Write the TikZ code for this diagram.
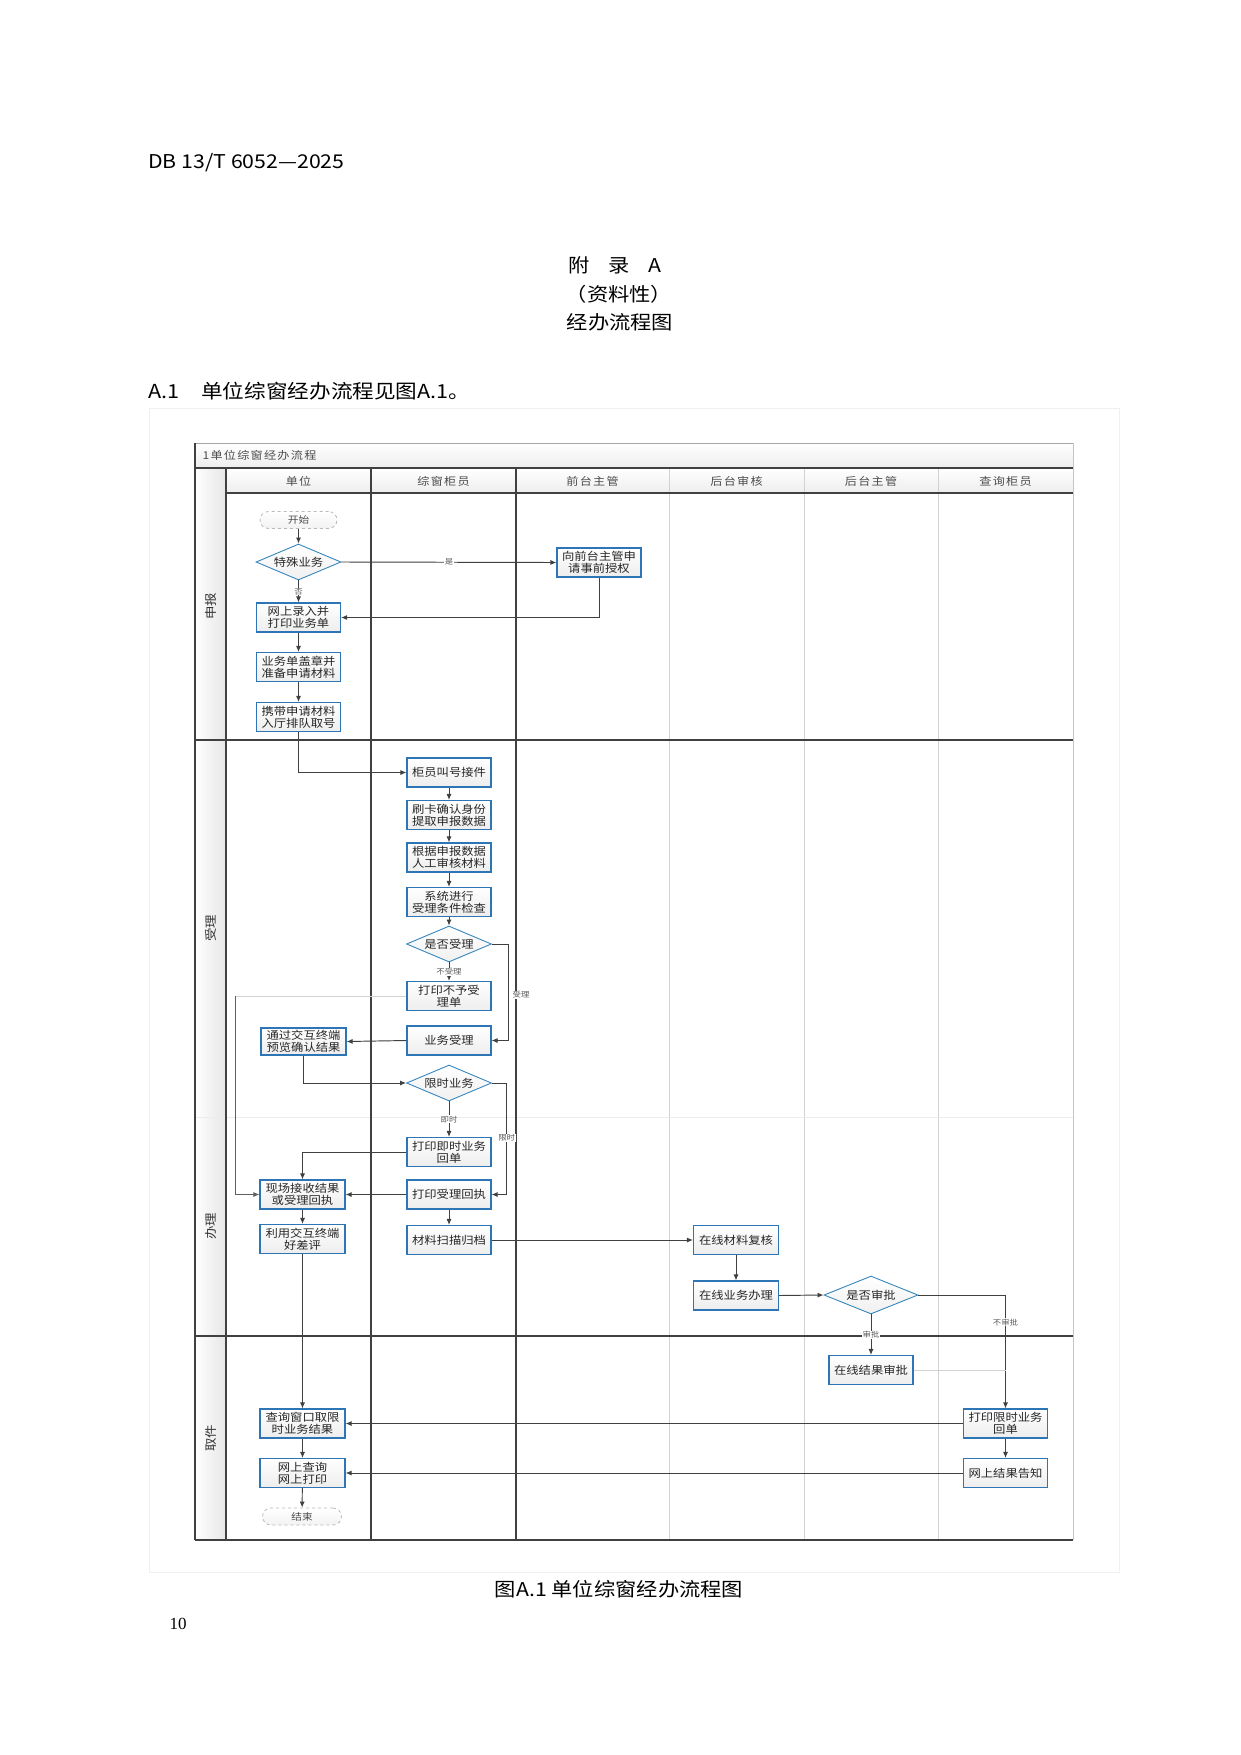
\documentclass[tikz,border=0pt]{standalone}
\usepackage{fontspec}
\newfontfamily\cjk[FakeStretch=1.12]{Noto Sans CJK SC}
\newfontfamily\hdr[FakeStretch=1.12,LetterSpace=12]{Noto Sans CJK SC}
\newfontfamily\numfont{Liberation Serif}
\usetikzlibrary{shapes.geometric,arrows.meta,calc}
\definecolor{bblue}{RGB}{46,117,182}
\definecolor{dblue}{RGB}{55,135,190}
\definecolor{ln}{RGB}{64,64,64}
\begin{document}
\begin{tikzpicture}[x=1pt,y=-1pt,
  proc/.style={rectangle,draw=bblue,line width=1.1pt,top color=white,bottom color=gray!14,
    minimum width=84pt,minimum height=29pt,inner sep=1pt,align=center,
    font=\cjk\fontsize{11}{12.2}\selectfont,text=black!85},
  dec/.style={diamond,draw=dblue,line width=0.9pt,top color=white,bottom color=gray!12,
    aspect=2.36,inner sep=0pt,minimum width=85pt,minimum height=36pt,
    font=\cjk\fontsize{11}{12.2}\selectfont,text=black!85},
  term/.style={rectangle,rounded corners=8.5pt,draw=gray!55,dashed,line width=0.8pt,
    top color=white,bottom color=gray!10,minimum width=77pt,minimum height=17pt,inner sep=0pt,
    font=\cjk\fontsize{9.5}{10}\selectfont,text=black!70},
  arr/.style={draw=ln,line width=0.95pt,-{Latex[length=6pt,width=5pt]}},
  lab/.style={fill=white,inner sep=0.6pt,font=\cjk\fontsize{7.5}{8}\selectfont,text=black!65},
  head/.style={font=\hdr\fontsize{10.8}{12}\selectfont,text=black!70},
  phase/.style={rotate=90,font=\cjk\fontsize{12}{13}\selectfont,text=black!80},
  ptext/.style={font=\cjk\fontsize{19}{22}\selectfont,text=black}
]
\fill[white] (0,0) rectangle (1240,1755);
\useasboundingbox (0,0) rectangle (1240,1755);

% page texts
\node[ptext,anchor=west,inner sep=0pt] (docid) at (148,163) {DB 13/T 6052—2025};
\node[ptext] (apx) at (615,265) {附\quad 录\quad A};
\node[ptext] (apx2) at (619,294) {（资料性）};
\node[ptext] (apx3) at (620,322) {经办流程图};
\node[ptext,anchor=west,inner sep=0pt,font=\cjk\fontsize{19.3}{22}\selectfont] (a1) at (148,391) {A.1\hspace{22pt}单位综窗经办流程见图A.1。};
\node[ptext] (cap) at (619,1589) {图A.1\ 单位综窗经办流程图};
\node[font=\numfont\fontsize{17}{18}\selectfont] (pg) at (178,1624) {10};

% figure frame
\draw[gray!12,line width=0.8pt] (149,408) rectangle (1119,1572);

% swimlane backgrounds
\shade[top color=white,bottom color=gray!14] (195,443) rectangle (1073,468);
\shade[top color=white,bottom color=gray!14] (226,468) rectangle (1073,493);
\shade[left color=white,right color=gray!20] (195,468) rectangle (226,1540);

% swimlane lines
\draw[gray!35,line width=1pt] (669,468) -- (669,1540);
\draw[gray!35,line width=1pt] (804,468) -- (804,1540);
\draw[gray!35,line width=1pt] (938,468) -- (938,1540);
\draw[gray!45,line width=1pt] (1073,443) -- (1073,1540);
\draw[gray!15,line width=1pt] (195,1117.5) -- (1073,1117.5);
\draw[gray!70,line width=1pt] (195,443) -- (1073,443);
\draw[ln,line width=1.1pt] (195,468) -- (1073,468);
\draw[ln,line width=1.1pt] (226,493) -- (1073,493);
\draw[ln,line width=1.2pt] (195,740) -- (1073,740);
\draw[ln,line width=1.2pt] (195,1336) -- (1073,1336);
\draw[ln,line width=1.4pt] (195,1540) -- (1073,1540);
\draw[ln,line width=1.1pt] (195,443) -- (195,1540);
\draw[ln,line width=2pt] (226,468) -- (226,1540);
\draw[ln,line width=1.1pt] (371,468) -- (371,1540);
\draw[ln,line width=2pt] (516,468) -- (516,1540);

% headings
\node[head,anchor=west] (ttl) at (199,455.5) {1单位综窗经办流程};
\node[head] (h1) at (298.5,481) {单位};
\node[head] (h2) at (443.5,481) {综窗柜员};
\node[head] (h3) at (592.5,481) {前台主管};
\node[head] (h4) at (736.5,481) {后台审核};
\node[head] (h5) at (871,481) {后台主管};
\node[head] (h6) at (1005.5,481) {查询柜员};
\node[phase] (p1) at (210.5,606) {申报};
\node[phase] (p2) at (210.5,928) {受理};
\node[phase] (p3) at (210.5,1226) {办理};
\node[phase] (p4) at (210.5,1438) {取件};

% nodes
\node[term] (start) at (298.5,520) {开始};
\node[dec] (d1) at (298.5,562) {特殊业务};
\node[proc] (auth) at (599,562.5) {向前台主管申\\请事前授权};
\node[proc] (entry) at (298.5,617.5) {网上录入并\\打印业务单};
\node[proc] (stamp) at (298.5,667) {业务单盖章并\\准备申请材料};
\node[proc] (carry) at (298.5,717) {携带申请材料\\入厅排队取号};
\node[proc] (call) at (449,772.5) {柜员叫号接件};
\node[proc] (swipe) at (449,815) {刷卡确认身份\\提取申报数据};
\node[proc] (review) at (449,857.5) {根据申报数据\\人工审核材料};
\node[proc] (check) at (449,902) {系统进行\\受理条件检查};
\node[dec] (d2) at (449,944) {是否受理};
\node[proc] (reject) at (449,996) {打印不予受\\理单};
\node[proc] (accept) at (449,1040.5) {业务受理};
\node[proc,minimum height=27pt,minimum width=85pt] (preview) at (303.5,1041.5) {通过交互终端\\预览确认结果};
\node[dec] (d3) at (449,1083) {限时业务};
\node[proc] (instant) at (449,1152) {打印即时业务\\回单};
\node[proc] (receipt) at (449,1194.5) {打印受理回执};
\node[proc] (scan) at (449,1240) {材料扫描归档};
\node[proc,minimum width=85pt] (onsite) at (302.5,1194.5) {现场接收结果\\或受理回执};
\node[proc,minimum width=85pt] (rate) at (302.5,1239) {利用交互终端\\好差评};
\node[proc,minimum width=85pt] (recheck) at (736,1240) {在线材料复核};
\node[proc,minimum width=85pt] (handle) at (736,1295.5) {在线业务办理};
\node[dec,minimum width=94pt,minimum height=38pt] (d4) at (871,1295) {是否审批};
\node[proc] (approve) at (871,1370) {在线结果审批};
\node[proc] (printlimit) at (1005.5,1423.5) {打印限时业务\\回单};
\node[proc] (notify) at (1005.5,1473) {网上结果告知};
\node[proc,minimum width=85pt] (query) at (302.5,1423.5) {查询窗口取限\\时业务结果};
\node[proc,minimum width=85pt] (online) at (302.5,1473) {网上查询\\网上打印};
\node[term,minimum width=79pt] (end) at (302,1516.5) {结束};

% helper coordinates
\coordinate (k1) at (508,0);
\coordinate (k2) at (506.7,0);
\coordinate (k3) at (235,0);

% connectors
\draw[arr] (start) -- (d1);
\draw[arr] (d1.east) -- node[lab] {是} (auth.west);
\draw[arr] (d1.south) -- node[lab] {否} (entry.north);
\draw[arr] (auth.south) |- (entry.east);
\draw[arr] (entry) -- (stamp);
\draw[arr] (stamp) -- (carry);
\draw[arr] (carry.south) |- (call.west);
\draw[arr] (call) -- (swipe);
\draw[arr] (swipe) -- (review);
\draw[arr] (review) -- (check);
\draw[arr] (check) -- (d2);
\draw[arr] (d2.south) -- node[lab] {不受理} (reject.north);
\draw[arr] (d2.east) -| (k1 |- accept.east) -- (accept.east);
\node[lab] (lb1) at (521,995) {受理};
\draw[gray!35,line width=1pt] (reject.west) -- (reject.west -| k3);
\draw[arr,draw=gray!75!black] (reject.west -| k3) |- (onsite.west);
\draw[arr] (accept.west) -- (preview.east);
\draw[arr] (preview.south) |- (d3.west);
\draw[arr] (d3.south) -- node[lab] {即时} (instant.north);
\draw[arr] (d3.east) -| (k2 |- receipt.east) -- (receipt.east);
\node[lab] (lb2) at (506.7,1138) {限时};
\draw[arr] (instant.west) -| (onsite.north);
\draw[arr] (receipt.west) -- (onsite.east);
\draw[arr] (onsite) -- (rate);
\draw[arr] (receipt) -- (scan);
\draw[arr] (scan.east) -- (recheck.west);
\draw[arr] (recheck) -- (handle);
\draw[arr] (handle.east) -- (d4.west);
\draw[arr] (d4.south) -- node[lab] {审批} (approve.north);
\draw[arr] (d4.east) -| node[lab,pos=0.62] {不审批} (printlimit.north);
\draw[gray!35,line width=1pt] (approve.east) -- (approve.east -| printlimit.north);
\draw[arr] (rate.south) -- (query.north);
\draw[arr] (printlimit.west) -- (query.east);
\draw[arr] (notify.west) -- (online.east);
\draw[arr] (printlimit) -- (notify);
\draw[arr] (query) -- (online);
\draw[arr] (online) -- (end);
\end{tikzpicture}
\end{document}
